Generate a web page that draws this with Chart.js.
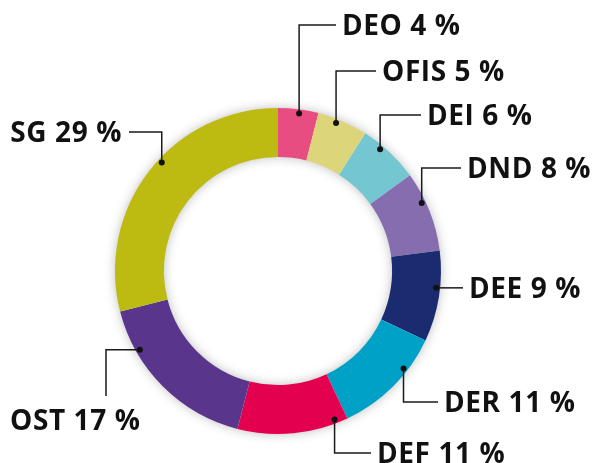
<!DOCTYPE html>
<html lang="en">
<head>
    <meta charset="UTF-8">
    <title>Répartition</title>
    <script src="https://cdn.jsdelivr.net/npm/chart.js"></script>
    <style>
        html, body { margin: 0; padding: 0; background: #fff; }
        #wrap { width: 592px; height: 463px; }
    </style>
</head>
<body>
<div id="wrap"><canvas id="donut" width="592" height="463"></canvas></div>
<script>
    // data
    const categories = ["DEO", "OFIS", "DEI", "DND", "DEE", "DER", "DEF", "OST", "SG"];
    const shares = [4, 5, 6, 8, 9, 11, 11, 17, 29];
    const colours = ["#e84d82", "#dcd57a", "#74c6d0", "#866db0", "#1b2b6f", "#00a1c6", "#e3004e", "#5a358c", "#bdba12"];

    // leader lines: t = where the dot sits along the slice, lx/ly = elbow relative to ring centre
    const leaderLayout = [
        { t: 0.53, mode: "vh", lx: 58,   ly: -246, align: "left" },
        { t: 0.39, mode: "vh", lx: 98,   ly: -200, align: "left" },
        { t: 0.35, mode: "vh", lx: 143,  ly: -156, align: "left" },
        { t: 0.37, mode: "vh", lx: 183,  ly: -103, align: "left" },
        { t: 0.41, mode: "h",  lx: 185,  ly: 0,    align: "left" },
        { t: 0.32, mode: "vh", lx: 160,  ly: 131,  align: "left" },
        { t: 0.11, mode: "vh", lx: 93,   ly: 182,  align: "left" },
        { t: 0.75, mode: "hv", lx: -172, ly: 125,  align: "below", tx: -268, ty: 159 },
        { t: 0.55, mode: "vh", lx: -149, ly: -139, align: "right" }
    ];

    const ringShadow = {
        id: "ringShadow",
        beforeDatasetsDraw(chart) {
            const arc = chart.getDatasetMeta(0).data[0];
            if (!arc) return;
            const ctx = chart.ctx;
            ctx.save();
            ctx.shadowColor = "rgba(0,0,0,0.3)";
            ctx.shadowBlur = 12;
            ctx.fillStyle = "#ffffff";
            ctx.beginPath();
            ctx.arc(arc.x, arc.y, arc.outerRadius - 1, 0, Math.PI * 2);
            ctx.arc(arc.x, arc.y, arc.innerRadius + 1, 0, Math.PI * 2, true);
            ctx.fill();
            ctx.restore();
        }
    };

    const leaders = {
        id: "leaders",
        afterDatasetsDraw(chart) {
            const ctx = chart.ctx;
            const arcs = chart.getDatasetMeta(0).data;
            ctx.save();
            ctx.strokeStyle = "#1a1a1a";
            ctx.fillStyle = "#111111";
            ctx.lineWidth = 1.5;
            ctx.font = "bold 28px 'Open Sans', sans-serif";
            ctx.letterSpacing = "0.6px";
            arcs.forEach((arc, i) => {
                const L = leaderLayout[i];
                const a = arc.startAngle + L.t * (arc.endAngle - arc.startAngle);
                const r = arc.outerRadius - 4;
                const px = arc.x + r * Math.cos(a);
                const py = arc.y + r * Math.sin(a);
                const ex = arc.x + L.lx;
                let ey = arc.y + L.ly;
                ctx.beginPath();
                ctx.moveTo(px, py);
                if (L.mode === "vh") {
                    ctx.lineTo(px, ey);
                    ctx.lineTo(ex, ey);
                } else if (L.mode === "h") {
                    ey = py;
                    ctx.lineTo(ex, ey);
                } else {
                    ctx.lineTo(ex, py);
                    ctx.lineTo(ex, ey);
                }
                ctx.stroke();
                ctx.beginPath();
                ctx.arc(px, py, 3, 0, Math.PI * 2);
                ctx.fill();

                const label = categories[i] + " " + shares[i] + " %";
                ctx.textBaseline = "alphabetic";
                if (L.align === "left") {
                    ctx.textAlign = "left";
                    ctx.fillText(label, ex + 6, ey + 10);
                } else if (L.align === "right") {
                    ctx.textAlign = "right";
                    ctx.fillText(label, ex - 7, ey + 10);
                } else {
                    ctx.textAlign = "left";
                    ctx.fillText(label, arc.x + L.tx, arc.y + L.ty);
                }
            });
            ctx.restore();
        }
    };

    new Chart(document.getElementById("donut"), {
        type: "doughnut",
        data: {
            labels: categories,
            datasets: [{
                data: shares,
                backgroundColor: colours,
                borderWidth: 0
            }]
        },
        options: {
            responsive: false,
            animation: false,
            cutout: "70%",
            layout: { padding: { top: 108, bottom: 29, left: 115, right: 151 } },
            plugins: {
                legend: { display: false },
                tooltip: { enabled: false }
            }
        },
        plugins: [ringShadow, leaders]
    });
</script>
</body>
</html>
